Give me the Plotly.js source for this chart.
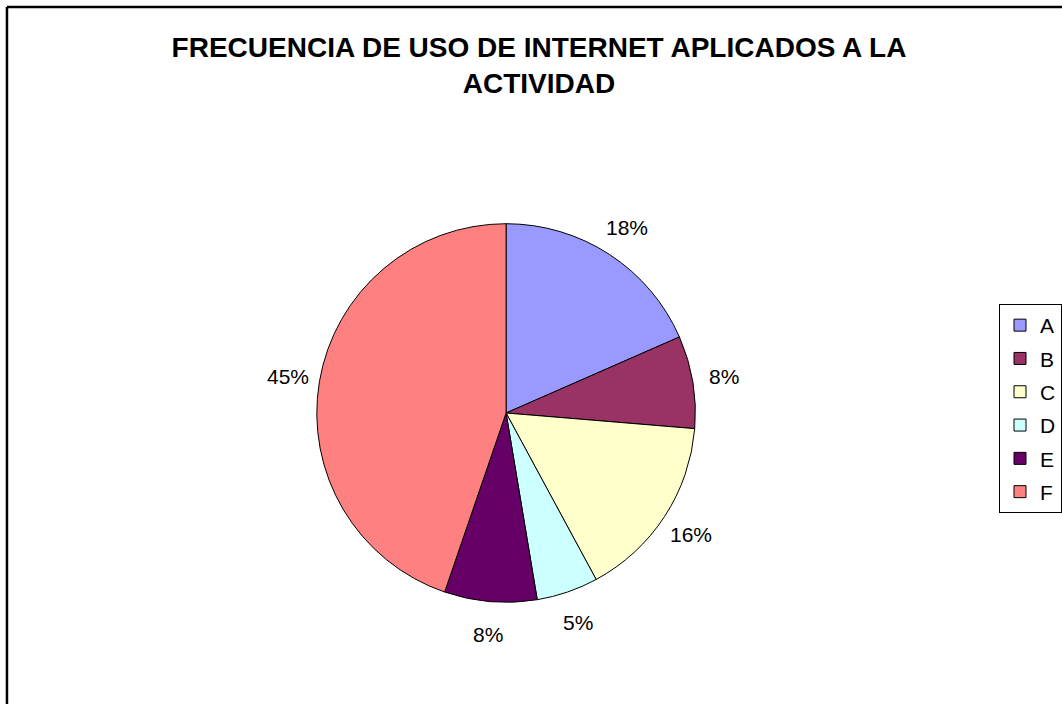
<!DOCTYPE html>
<html>
<head>
<meta charset="utf-8">
<script src="https://cdn.plot.ly/plotly-3.0.1.min.js"></script>
<style>
  html, body { margin: 0; padding: 0; background: #fff; }
  #chart { width: 1062px; height: 704px; }
</style>
</head>
<body>
<div id="chart"></div>
<script>
// Data
const categories = ["A", "B", "C", "D", "E", "F"];
const counts = [7, 3, 6, 2, 3, 17];
const sliceColors = ["#9999FF", "#993366", "#FFFFCC", "#CCFFFF", "#660066", "#FF8080"];
const chartTitle = "FRECUENCIA DE USO DE INTERNET APLICADOS A LA<br>ACTIVIDAD";

const W = 1062, H = 704;
const cx = 508, cy = 413, R = 190;
const labelDist = 222;
const FONT = "Liberation Sans, Arial, sans-serif";

const pie = {
  type: "pie",
  labels: categories,
  values: counts,
  sort: false,
  direction: "clockwise",
  rotation: 0,
  marker: { colors: sliceColors, line: { color: "#000", width: 1 } },
  textinfo: "none",
  showlegend: false,
  hoverinfo: "label+percent",
  domain: {
    x: [(cx - R) / W, (cx + R) / W],
    y: [(H - cy - R) / H, (H - cy + R) / H]
  }
};

// percentage labels placed outside each slice, at the slice's mid-angle
const total = counts.reduce((a, b) => a + b, 0);
let cum = 0;
const labelAnnotations = counts.map((v) => {
  const mid = (cum + v / 2) / total * 2 * Math.PI;
  cum += v;
  const px = cx + labelDist * Math.sin(mid);
  const py = cy - labelDist * Math.cos(mid);
  return {
    xref: "paper", yref: "paper",
    x: px / W, y: 1 - py / H,
    xanchor: "center", yanchor: "middle",
    text: Math.round(v / total * 100) + "%",
    showarrow: false,
    font: { family: FONT, size: 21, color: "#000" }
  };
});

// legend entries built from the same category arrays
const legendTraces = categories.map((c, i) => ({
  type: "scatter",
  mode: "markers",
  x: [null], y: [null],
  name: c,
  legendgroup: c,
  marker: { symbol: "square", size: 12, color: sliceColors[i], line: { color: "#000", width: 1 } },
  hoverinfo: "skip"
}));

const layout = {
  width: W, height: H,
  margin: { l: 0, r: 0, t: 0, b: 0 },
  paper_bgcolor: "#fff",
  plot_bgcolor: "rgba(0,0,0,0)",
  font: { family: FONT, color: "#000" },
  title: {
    text: "<b>" + chartTitle + "</b>",
    font: { family: FONT, size: 28, color: "#000" },
    x: 539 / W, xanchor: "center",
    y: 1 - 57 / H, yanchor: "top"
  },
  xaxis: { visible: false },
  yaxis: { visible: false },
  showlegend: true,
  legend: {
    x: 1003 / W, xanchor: "left",
    y: 1 - 304 / H, yanchor: "top",
    bordercolor: "#000", borderwidth: 1,
    bgcolor: "#fff",
    font: { family: FONT, size: 21, color: "#000" },
    traceorder: "grouped",
    tracegroupgap: 3,
    itemclick: false, itemdoubleclick: false
  },
  annotations: labelAnnotations,
  shapes: [
    { type: "line", xref: "paper", yref: "paper", x0: 7 / W, x1: 1.02, y0: 1 - 7 / H, y1: 1 - 7 / H, line: { color: "#000", width: 2.5 } },
    { type: "line", xref: "paper", yref: "paper", x0: 7 / W, x1: 7 / W, y0: 1 - 7 / H, y1: -0.02, line: { color: "#000", width: 2.5 } }
  ]
};

Plotly.newPlot("chart", [pie].concat(legendTraces), layout, { displayModeBar: false });
</script>
</body>
</html>
